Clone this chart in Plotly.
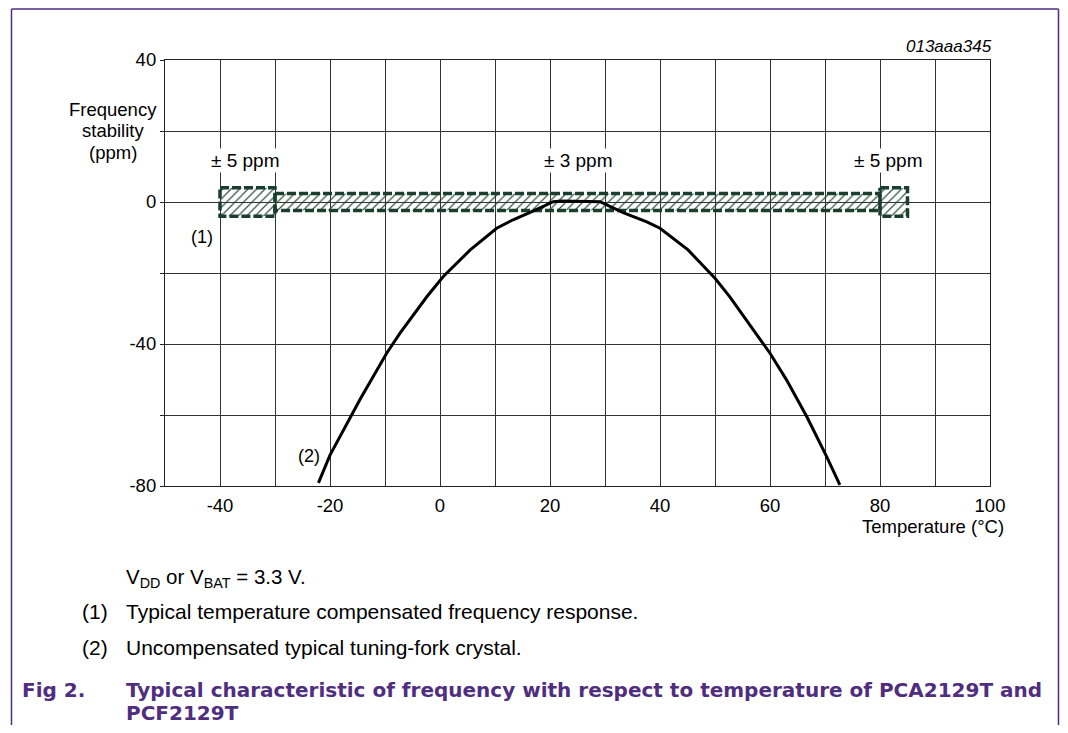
import plotly.graph_objects as go

# ---- data ----
temp_c = [-22.1, -20.0, -14.5, -9.7, -7.3, -2.4, 0.6, 5.5, 10.3, 13.3, 17.0, 20.6, 22.0,
          27.3, 29.1, 33.3, 37.6, 40.0, 45.1, 50.0, 52.7, 60.0, 63.0, 66.7, 70.3, 72.7]
ppm = [-79.1, -71.3, -55.5, -42.6, -37.0, -26.7, -21.0, -13.5, -7.4, -5.0, -2.5, 0.1, 0.3,
       0.3, 0.1, -3.0, -5.6, -7.4, -13.5, -21.5, -26.7, -42.6, -50.1, -60.5, -71.7, -79.7]

band_start = [-40, -30, 80]
band_end = [-30, 80, 85]
band_half = [4.0, 2.4, 4.0]
band_labels = ["± 5 ppm", "± 3 ppm", "± 5 ppm"]
band_label_x = [-35.3, 25.1, 81.5]

x_tickvals = list(range(-50, 101, 10))
x_ticktext = ["" if (v % 20 or v == -50) else str(v) for v in x_tickvals]
y_tickvals = list(range(-80, 41, 20))
y_ticktext = [str(v) if v % 40 == 0 else "" for v in y_tickvals]

OFF = 8  # page body margin
W, H = 1068 - 2 * OFF, 733 - 2 * OFF
PL, PR, PT, PB = 165, 990, 60, 486  # plot area in reference pixels
L, R, T, B = PL - OFF, W - (PR - OFF), PT - OFF, H - (PB - OFF)
PW, PH = PR - PL, PB - PT


def px(x):
    return (x - PL) / PW


def py(y):
    return 1 - (y - PT) / PH


FONT = "Liberation Sans, Arial, sans-serif"
TFONT = "DejaVu Sans, Liberation Sans, sans-serif"
GREEN = "#1a3f31"
PURPLE = "#4f2d7f"

fig = go.Figure()

for x0, x1, h in zip(band_start, band_end, band_half):
    fig.add_trace(go.Scatter(
        x=[x0, x1, x1, x0, x0], y=[h, h, -h, -h, h],
        mode="lines", fill="toself",
        fillcolor="rgba(0,0,0,0)",
        fillpattern=dict(shape="/", fgcolor=GREEN, fgopacity=0.9,
                         bgcolor="rgba(255,255,255,0)", size=6, solidity=0.2),
        line=dict(color=GREEN, width=3.5, dash="9px,3px"),
        hoverinfo="skip", showlegend=False,
    ))

fig.add_trace(go.Scatter(
    x=temp_c, y=ppm, mode="lines",
    line=dict(color="black", width=3),
    showlegend=False,
))


def ann(x, y, text, size, xanchor="center", color="black", family=FONT, **kw):
    fig.add_annotation(x=px(x), y=py(y), xref="paper", yref="paper", text=text,
                       showarrow=False, xanchor=xanchor, yanchor="middle",
                       font=dict(size=size, color=color, family=family), **kw)


for lbl, lx in zip(band_labels, band_label_x):
    fig.add_annotation(x=lx, y=py(160), yref="paper", text=lbl, showarrow=False,
                       font=dict(size=19, color="black", family=FONT),
                       bgcolor="white", xanchor="center", yanchor="middle", borderpad=1)

ann(215, 237, "(1)", 18, xanchor="right")
ann(322, 456, "(2)", 18, xanchor="right")

ann(113, 109, "Frequency", 18.5)
ann(113, 130, "stability", 18.5)
ann(113, 152, "(ppm)", 18.5)
ann(1006, 526, "Temperature (°C)", 18.5, xanchor="right")
ann(994, 47, "<i>013aaa345</i>", 17, xanchor="right")

ann(124, 578, "V<sub>DD</sub> or V<sub>BAT</sub> = 3.3 V.", 20.5, xanchor="left")
ann(80, 611, "(1)", 21, xanchor="left")
ann(124, 611, "Typical temperature compensated frequency response.", 21, xanchor="left")
ann(80, 647, "(2)", 21, xanchor="left")
ann(124, 647, "Uncompensated typical tuning-fork crystal.", 21, xanchor="left")

ann(20, 690, "<b>Fig 2.</b>", 20, xanchor="left", color=PURPLE, family=TFONT)
ann(124, 690, "<b>Typical characteristic of frequency with respect to temperature of PCA2129T and</b>",
    20, xanchor="left", color=PURPLE, family=TFONT)
ann(124, 713, "<b>PCF2129T</b>", 20, xanchor="left", color=PURPLE, family=TFONT)

# purple frame (left, top, right) -- kept inside the figure area
FL, FR, FT = 11.5, 1058.5, 9
for (x0, y0, x1, y1) in [(FL, FT, FL, 760), (FR, FT, FR, 760), (FL, FT, FR, FT)]:
    fig.add_shape(type="line", xref="paper", yref="paper", x0=px(x0), x1=px(x1),
                  y0=py(y0), y1=py(y1), line=dict(color=PURPLE, width=1.5))

fig.update_xaxes(range=[-50, 100], tickvals=x_tickvals, ticktext=x_ticktext,
                 showgrid=True, gridcolor="#333333", gridwidth=1,
                 showline=True, linecolor="#222", linewidth=1.2, mirror=True,
                 zeroline=False, ticks="", ticklabelstandoff=3,
                 tickfont=dict(size=18.5, color="black", family=FONT))
fig.update_yaxes(range=[-80, 40], tickvals=y_tickvals, ticktext=y_ticktext,
                 showgrid=True, gridcolor="#333333", gridwidth=1,
                 showline=True, linecolor="#222", linewidth=1.2, mirror=True,
                 zeroline=False, ticks="outside", ticklen=4, tickcolor="#222",
                 tickfont=dict(size=18.5, color="black", family=FONT))

fig.update_layout(width=W, height=H, margin=dict(l=L, r=R, t=T, b=B, autoexpand=False),
                  plot_bgcolor="white", paper_bgcolor="white",
                  font=dict(family=FONT, color="black"))

fig.write_html("out.html")
